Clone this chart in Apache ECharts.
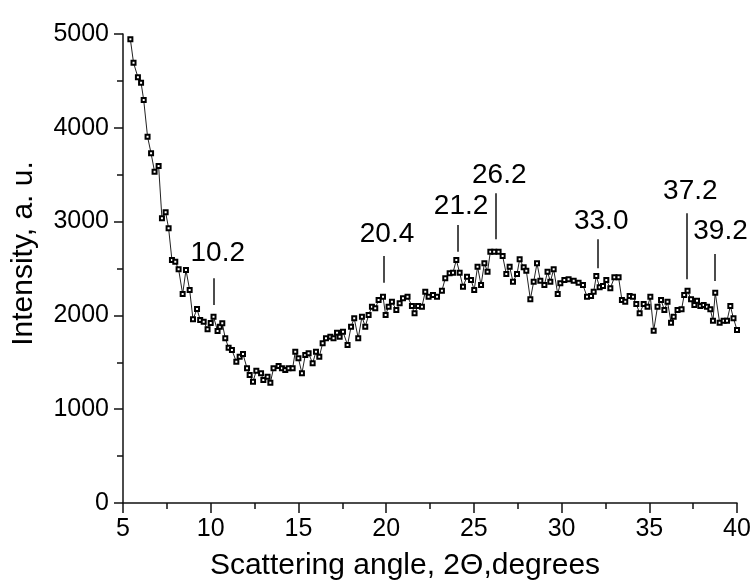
<!DOCTYPE html>
<html>
<head>
<meta charset="utf-8">
<script src="https://cdn.jsdelivr.net/npm/echarts@6/dist/echarts.min.js"></script>
<style>html,body{margin:0;padding:0;background:#fff}#c{width:754px;height:580px}</style>
</head>
<body>
<div id="c"></div>
<script>
// Scattering angle (2Θ, degrees)
const angles = [5.42,5.6,5.85,6.03,6.18,6.4,6.6,6.8,7.03,7.22,7.43,7.6,7.79,7.98,8.17,8.4,8.59,8.8,8.99,9.22,9.4,9.6,9.82,10.0,10.16,10.39,10.52,10.66,10.83,11.02,11.21,11.46,11.65,11.84,12.07,12.22,12.41,12.6,12.87,13.0,13.24,13.4,13.58,13.87,14.06,14.25,14.44,14.67,14.82,15.0,15.2,15.39,15.58,15.81,16.0,16.19,16.38,16.57,16.82,17.0,17.2,17.35,17.54,17.8,18.0,18.18,18.41,18.62,18.81,19.0,19.19,19.38,19.57,19.82,19.97,20.14,20.33,20.58,20.77,20.96,21.22,21.47,21.62,21.82,22.04,22.23,22.42,22.67,22.9,23.18,23.37,23.62,23.81,24.0,24.19,24.38,24.61,24.84,25.02,25.21,25.41,25.6,25.78,25.94,26.16,26.41,26.64,26.85,27.04,27.23,27.46,27.61,27.84,27.99,28.22,28.41,28.6,28.79,29.02,29.2,29.36,29.55,29.78,29.93,30.16,30.4,30.69,30.97,31.22,31.45,31.68,31.83,31.98,32.17,32.36,32.55,32.78,33.01,33.25,33.44,33.63,33.88,34.07,34.26,34.45,34.68,34.9,35.06,35.25,35.47,35.67,35.86,36.04,36.24,36.39,36.61,36.84,36.99,37.18,37.38,37.57,37.72,37.91,38.1,38.29,38.48,38.63,38.76,39.01,39.24,39.43,39.62,39.8,40.0];
// Intensity (a. u.)
const intensities = [4943,4694,4538,4481,4296,3905,3728,3532,3593,3035,3099,2928,2590,2573,2491,2228,2484,2271,1958,2068,1951,1933,1852,1920,1986,1834,1880,1916,1756,1656,1631,1506,1560,1589,1436,1365,1293,1411,1383,1311,1347,1283,1436,1461,1436,1418,1436,1436,1613,1542,1383,1578,1596,1489,1613,1560,1702,1756,1773,1756,1816,1773,1826,1684,1880,1969,1756,1986,1880,2004,2093,2076,2164,2199,2004,2093,2146,2058,2129,2182,2199,2100,2022,2100,2093,2253,2199,2218,2199,2263,2395,2449,2455,2591,2455,2306,2413,2377,2271,2519,2324,2555,2466,2679,2679,2679,2633,2441,2519,2359,2441,2598,2513,2477,2172,2359,2555,2370,2324,2466,2359,2491,2228,2342,2377,2385,2370,2349,2324,2199,2207,2253,2420,2299,2313,2377,2289,2406,2406,2164,2146,2207,2199,2121,2022,2121,2093,2199,1837,2093,2164,2058,2146,1922,1986,2058,2065,2218,2263,2172,2111,2157,2100,2111,2093,2065,1944,2242,1922,1944,1944,2100,1969,1844];

// Peak annotations
const peakLabels = ['10.2','20.4','21.2','26.2','33.0','37.2','39.2'];
const peakTickX  = [10.16,19.86,24.07,26.22,32.08,37.15,38.72];
const peakTickLow  = [2110,2349,2679,2811,2502,2385,2367];
const peakTickHigh = [2395,2633,2964,3302,2811,3088,2655];
const peakLabelX = [10.40,20.05,24.27,26.45,32.26,37.34,39.06];
const peakLabelY = [2658,2868,3159,3491,2999,3319,2892];

const xTicks = [5,10,15,20,25,30,35,40];
const yTicks = [0,1000,2000,3000,4000,5000];

const FONT = '"Liberation Sans", Arial, sans-serif';
const TXT = '#000';

const chart = echarts.init(document.getElementById('c'), null, {renderer:'canvas'});
const data = angles.map((a,i)=>[a,intensities[i]]);

chart.setOption({
  animation:false,
  backgroundColor:'#fff',
  grid:{left:123,right:17,top:34,bottom:77,containLabel:false,outerBoundsMode:'none'},
  xAxis:{
    type:'value', min:xTicks[0], max:xTicks[xTicks.length-1], interval:5,
    name:'Scattering angle, 2\u0398,degrees', nameLocation:'middle', nameGap:48,
    nameTextStyle:{fontFamily:FONT,fontSize:30,color:TXT,padding:[0,50,0,0]},
    axisLine:{show:true,onZero:false,lineStyle:{color:'#111',width:1.5}},
    axisTick:{show:true,inside:false,length:10,lineStyle:{color:'#111',width:1.5}},
    minorTick:{show:true,splitNumber:2,length:6,lineStyle:{color:'#111',width:1.5}},
    axisLabel:{fontFamily:FONT,fontSize:25,color:TXT,margin:14,formatter:v=>String(v)},
    splitLine:{show:false}
  },
  yAxis:{
    type:'value', min:yTicks[0], max:yTicks[yTicks.length-1], interval:1000,
    name:'Intensity, a. u.', nameLocation:'middle', nameGap:84, nameRotate:90,
    nameTextStyle:{fontFamily:FONT,fontSize:30,color:TXT,padding:[0,0,0,30]},
    axisLine:{show:true,onZero:false,lineStyle:{color:'#111',width:1.5}},
    axisTick:{show:true,inside:false,length:9,lineStyle:{color:'#111',width:1.5}},
    minorTick:{show:true,splitNumber:2,length:6,lineStyle:{color:'#111',width:1.5}},
    axisLabel:{fontFamily:FONT,fontSize:25,color:TXT,margin:14,formatter:v=>String(v)},
    splitLine:{show:false}
  },
  series:[
    {
      type:'line', data:data,
      symbol:'emptyRect', symbolSize:4, showAllSymbol:true,
      lineStyle:{color:'#222',width:1},
      itemStyle:{color:'#000',borderWidth:1,borderColor:'#000'},
      markLine:{
        silent:true, symbol:['none','none'], animation:false,
        label:{show:false},
        lineStyle:{type:'solid',color:'#111',width:1.5},
        data: peakTickX.map((x,i)=>[{coord:[x,peakTickLow[i]]},{coord:[x,peakTickHigh[i]]}])
      }
    },
    {
      type:'scatter', silent:true,
      data: peakLabels.map((t,i)=>[peakLabelX[i],peakLabelY[i],t]),
      symbolSize:1, itemStyle:{color:'#fff',opacity:0},
      label:{show:true,position:'inside',formatter:p=>p.value[2],
             fontFamily:FONT,fontSize:28,color:'#000',opacity:1}
    }
  ]
});
</script>
</body>
</html>
